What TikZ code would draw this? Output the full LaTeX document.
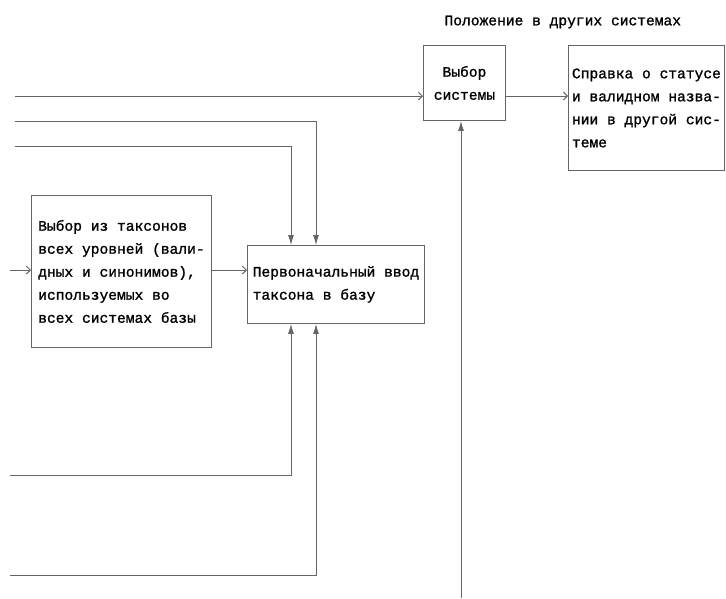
\documentclass[tikz,border=0pt]{standalone}
\usepackage{fontspec}
\setmonofont{Liberation Mono}[FakeBold=1.2]
\usepackage{xcolor}
\usepackage{tikz}
\usetikzlibrary{arrows.meta, positioning}
\tikzstyle{block} = [rectangle, draw=black!60, line width=0.9pt, text=black, font=\ttfamily\fontsize{14.6}{23}\selectfont, inner sep=5pt, anchor=north west]
\tikzstyle{flow} = [-{Straight Barb[length=4pt,width=8pt]}, draw=black!60, line width=0.9pt]
\tikzstyle{feed} = [-{Latex[length=10pt,width=6pt]}, draw=black!60, line width=0.9pt]

\begin{document}
\begin{tikzpicture}[x=1pt, y=-1pt]
\useasboundingbox (0,0) rectangle (726,598);

\node[anchor=west, font=\ttfamily\fontsize{14.6}{23}\selectfont] (head) at (441,22) {Положение в других системах};

\node[block, align=center, minimum width=82pt, minimum height=75pt] (sel) at (423,45) {Выбор\\системы};
\node[block, align=left, inner xsep=3pt, minimum width=156pt, minimum height=125pt] (ref) at (568,45) {Справка о статусе\\и валидном назва-\\нии в другой сис-\\теме};

\node[block, align=left, minimum width=180pt, minimum height=152pt] (lft) at (31,195) {Выбор из таксонов\\всех уровней (вали-\\дных и синонимов),\\используемых во\\всех системах базы};
\node[block, align=left, minimum width=177pt, minimum height=78pt] (mid) at (247,245) {Первоначальный ввод\\таксона в базу};

% free ends of the incoming lines
\coordinate (in1) at (15,96);
\coordinate (in2) at (15,121);
\coordinate (in3) at (15,146);
\coordinate (in0) at (10,270);
\coordinate (in4) at (10,475);
\coordinate (in5) at (10,575);
\coordinate (in6) at (461,598);

\draw[flow] (in1) -- (in1 -| sel.west);
\draw[flow] (sel.east |- in1) -- (in1 -| ref.west);
\draw[feed] (in6) -- (in6 |- sel.south);

\draw[feed] (in2) -| ([xshift=69pt]mid.north west);
\draw[feed] (in3) -| ([xshift=44pt]mid.north west);
\draw[flow] (in0) -- (in0 -| lft.west);
\draw[flow] (lft.east |- in0) -- (in0 -| mid.west);
\draw[feed] (in4) -| ([xshift=44pt]mid.south west);
\draw[feed] (in5) -| ([xshift=69pt]mid.south west);

\end{tikzpicture}
\end{document}
